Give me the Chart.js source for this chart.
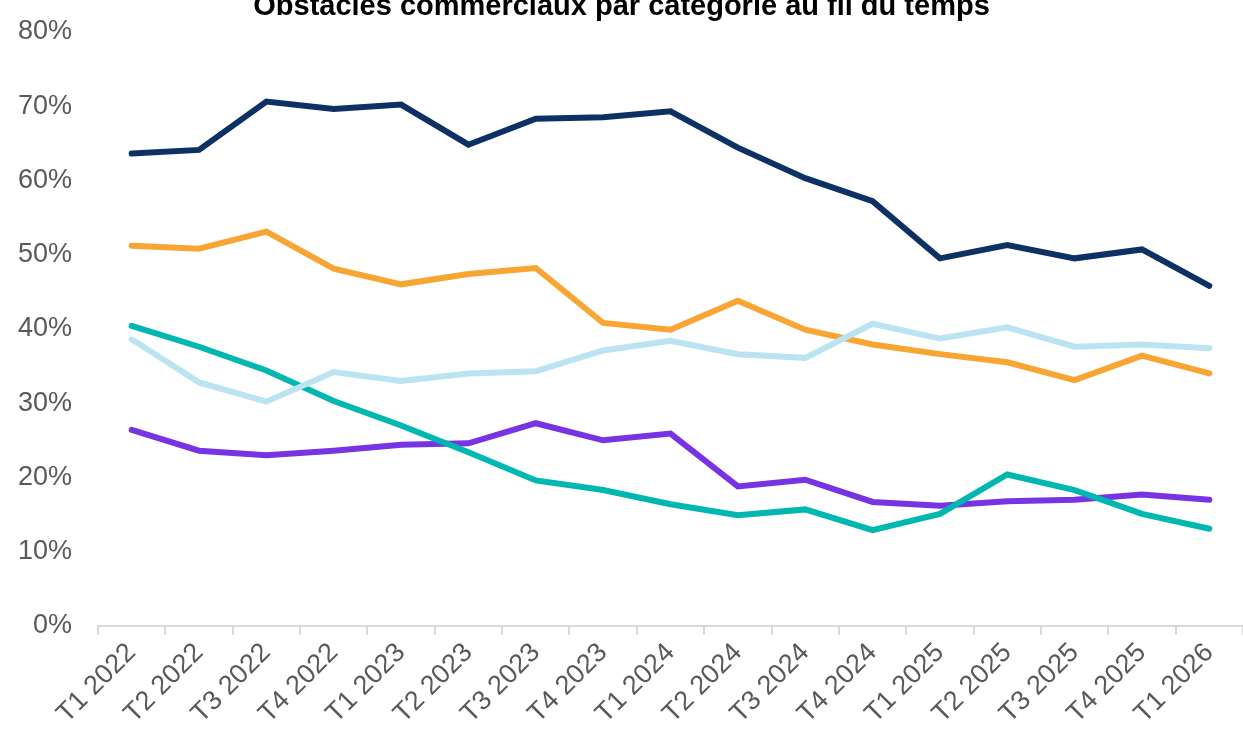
<!DOCTYPE html>
<html>
<head>
<meta charset="utf-8">
<script src="https://cdn.jsdelivr.net/npm/chart.js@4/dist/chart.umd.min.js"></script>
<style>
  html, body { margin: 0; padding: 0; background: #fff; overflow: hidden; }
  #wrap { position: absolute; left: 0; top: -18px; width: 1243px; height: 754px; }
</style>
</head>
<body>
<div id="wrap"><canvas id="c"></canvas></div>
<script>
const categories = ["T1 2022","T2 2022","T3 2022","T4 2022","T1 2023","T2 2023","T3 2023","T4 2023","T1 2024","T2 2024","T3 2024","T4 2024","T1 2025","T2 2025","T3 2025","T4 2025","T1 2026"];
const seriesNavy   = [63.6,64.1,70.6,69.6,70.2,64.8,68.3,68.5,69.3,64.4,60.3,57.2,49.5,51.3,49.5,50.7,45.8];
const seriesOrange = [51.2,50.8,53.1,48.1,46.0,47.4,48.2,40.8,39.9,43.8,39.9,37.9,36.6,35.5,33.1,36.4,34.0];
const seriesLight  = [38.6,32.8,30.2,34.2,33.0,34.0,34.3,37.1,38.4,36.6,36.1,40.7,38.7,40.2,37.6,37.9,37.4];
const seriesTeal   = [40.4,37.6,34.4,30.3,27.0,23.4,19.6,18.3,16.4,14.9,15.7,12.9,15.1,20.4,18.3,15.1,13.1];
const seriesPurple = [26.4,23.6,23.0,23.6,24.4,24.6,27.3,25.0,25.9,18.8,19.7,16.7,16.2,16.8,17.0,17.7,17.0];
const yTicks = [0,10,20,30,40,50,60,70,80];
const titleText = "Obstacles commerciaux par catégorie au fil du temps";

function ds(data, color) {
  return { data, borderColor: color, backgroundColor: color, borderWidth: 6, pointRadius: 0, pointHoverRadius: 0, tension: 0, fill: false, borderCapStyle: 'round' };
}

new Chart(document.getElementById('c'), {
  type: 'line',
  data: {
    labels: categories,
    datasets: [
      ds(seriesLight, '#bbe3f1'),
      ds(seriesTeal, '#00b8b0'),
      ds(seriesPurple, '#7834e2'),
      ds(seriesOrange, '#f9a533'),
      ds(seriesNavy, '#0d3163')
    ]
  },
  options: {
    responsive: true,
    maintainAspectRatio: false,
    animation: false,
    layout: { padding: { left: 0, right: 0, top: 0, bottom: 0 } },
    plugins: {
      legend: { display: false },
      tooltip: { enabled: false },
      title: {
        display: true,
        text: titleText,
        color: '#000',
        font: { family: 'Liberation Sans, Arial, sans-serif', size: 29, weight: 'bold' },
        padding: { top: 8, bottom: 7 }
      }
    },
    scales: {
      x: {
        offset: true,
        afterFit: (axis) => { axis.height = 110; },
        grid: { display: true, drawOnChartArea: false, drawTicks: true, tickLength: 9, offset: true, color: '#d9d9d9', lineWidth: 2 },
        border: { display: true, color: '#d9d9d9', width: 2 },
        ticks: {
          color: '#595959',
          font: { family: 'Liberation Sans, Arial, sans-serif', size: 27 },
          minRotation: 45, maxRotation: 45, padding: 2, autoSkip: false
        }
      },
      y: {
        min: 0, max: 80,
        afterBuildTicks: (axis) => { axis.ticks = yTicks.map(v => ({ value: v })); },
        afterFit: (axis) => { axis.width = 98; },
        grid: { display: false },
        border: { display: false },
        ticks: {
          color: '#595959',
          font: { family: 'Liberation Sans, Arial, sans-serif', size: 27 },
          padding: 18,
          callback: (v) => v + '%'
        }
      }
    }
  }
});
</script>
</body>
</html>
